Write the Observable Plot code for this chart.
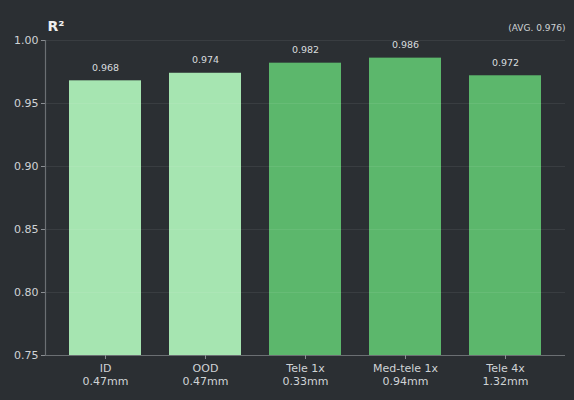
<!DOCTYPE html>
<html>
<head>
<meta charset="utf-8">
<script src="https://cdn.jsdelivr.net/npm/d3@7"></script>
<script src="https://cdn.jsdelivr.net/npm/@observablehq/plot@0.6"></script>
<style>
html,body{margin:0;padding:0;background:#2b2f33;}
svg{display:block;}
</style>
</head>
<body>
<div id="chart"></div>
<script>
const categories = ["ID\n0.47mm", "OOD\n0.47mm", "Tele 1x\n0.33mm", "Med-tele 1x\n0.94mm", "Tele 4x\n1.32mm"];
const values = [0.968, 0.974, 0.982, 0.986, 0.972];
const groups = ["in", "in", "out", "out", "out"];
const yTicks = [0.75, 0.80, 0.85, 0.90, 0.95, 1.00];
const avgLabel = "(AVG. 0.976)";
const yTitle = "R²";

const data = categories.map((c, i) => ({cat: c, value: values[i], group: groups[i]}));
const font = "DejaVu Sans, sans-serif";

const chart = Plot.plot({
  width: 574,
  height: 400,
  marginLeft: 45,
  marginRight: 9,
  marginTop: 40,
  marginBottom: 45,
  style: {background: "#2b2f33", color: "#cfd3d6", fontFamily: font, fontSize: "11px"},
  x: {domain: categories, paddingInner: 0.28, paddingOuter: 0.24, label: null},
  y: {domain: [0.75, 1.0], label: null},
  color: {domain: ["in", "out"], range: ["#a6e5b1", "#5cb76c"]},
  marks: [
    Plot.barY(data, {x: "cat", y1: 0.75, y2: "value", fill: "group"}),
    Plot.gridY(yTicks, {stroke: "#ffffff", strokeOpacity: 0.07}),
    Plot.ruleY([0.75], {stroke: "#6b6f73", strokeWidth: 1.2}),
    Plot.axisY({ticks: yTicks, tickFormat: d3.format(".2f"), tickSize: 4, stroke: "#8a8e92", fill: "#cfd3d6", fontSize: 11, tickPadding: 3}),
    Plot.frame({anchor: "left", stroke: "#6b6f73", strokeWidth: 1.2}),
    Plot.axisX({tickSize: 4, stroke: "#8a8e92", fill: "#cfd3d6", fontSize: 11, tickPadding: 4, lineHeight: 1.15}),
    Plot.text(data, {x: "cat", y: "value", text: d => d3.format(".3f")(d.value), dy: -13, fill: "#d8dcdf", fontSize: 9.5}),
    Plot.text([yTitle], {frameAnchor: "top-left", dx: 2, dy: -19, fill: "#eeeeee", fontSize: 14, fontWeight: "bold", textAnchor: "start"}),
    Plot.text([avgLabel], {frameAnchor: "top-right", dx: 0, dy: -16, fill: "#cfd3d6", fontSize: 9, textAnchor: "end"})
  ]
});
document.getElementById("chart").appendChild(chart);
</script>
</body>
</html>
